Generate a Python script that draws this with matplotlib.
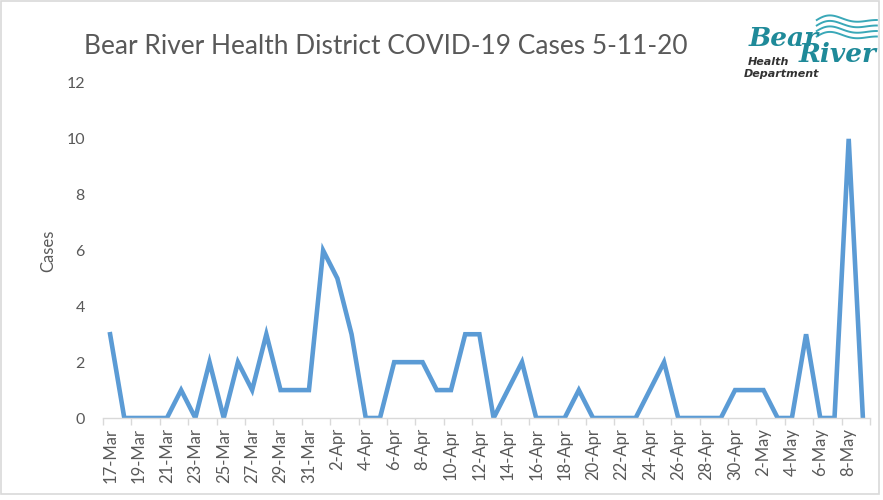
import matplotlib
matplotlib.use("Agg")
import matplotlib.pyplot as plt
from matplotlib.patches import Rectangle
import numpy as np
import datetime as dt

start = dt.date(2020, 3, 17)
cases = [3, 0, 0, 0, 0, 1, 0, 2, 0, 2, 1, 3, 1, 1, 1, 6, 5, 3, 0, 0,
         2, 2, 2, 1, 1, 3, 3, 0, 1, 2, 0, 0, 0, 1, 0, 0, 0, 0, 1, 2,
         0, 0, 0, 0, 1, 1, 1, 0, 0, 3, 0, 0, 10, 0]
dates = [start + dt.timedelta(days=i) for i in range(len(cases))]
labels = [f"{d.day}-{d.strftime('%b')}" for d in dates]
yticks = [0, 2, 4, 6, 8, 10, 12]
title = "Bear River Health District COVID-19 Cases 5-11-20"

FONT = "Lato"
W, H = 883, 500
fig = plt.figure(figsize=(W / 100, H / 100), dpi=100)
fig.patch.set_facecolor("white")
fig.patches.append(Rectangle((0.001, 0.012), 0.995, 0.986, transform=fig.transFigure,
                             fill=False, edgecolor="#d9d9d9", linewidth=1.2))

ax = fig.add_axes([103 / W, 1 - 418 / H, (870 - 103) / W, (418 - 83) / H])
x = np.arange(len(cases))
ax.plot(x, cases, color="#5B9BD5", linewidth=3.3, solid_joinstyle="miter")

ax.set_xlim(-0.5, len(cases) - 0.5)
ax.set_ylim(0, 12)
ax.set_yticks(yticks)
ax.set_yticklabels([str(v) for v in yticks], fontsize=11.5, color="#595959",
                   family=FONT)
ax.tick_params(axis="y", length=0, pad=13)

ax.set_xticks(x[::2])
ax.set_xticklabels(labels[::2], rotation=90, fontsize=12, color="#595959",
                   family=FONT)
ax.set_xticks(np.arange(-0.5, len(cases), 2), minor=True)
ax.tick_params(axis="x", which="major", length=0, pad=7)
ax.tick_params(axis="x", which="minor", length=5, color="#d9d9d9", width=1)

for s in ["top", "right", "left"]:
    ax.spines[s].set_visible(False)
ax.spines["bottom"].set_color("#d9d9d9")
ax.spines["bottom"].set_linewidth(1)

ax.set_ylabel("Cases", fontsize=12, color="#595959", family=FONT, labelpad=7)

fig.text(386 / W, 1 - 47 / H, title, ha="center", va="center", fontsize=18.9,
         color="#595959", family=FONT)

# logo text
fig.text(784 / W, 1 - 38 / H, "Bear", ha="center", va="center", fontsize=19,
         color="#1f8a99", family="DejaVu Serif", style="italic", weight="bold")
fig.text(838 / W, 1 - 55 / H, "River", ha="center", va="center", fontsize=19,
         color="#1f8a99", family="DejaVu Serif", style="italic", weight="bold")
fig.text(768 / W, 1 - 62 / H, "Health", ha="center", va="center", fontsize=8,
         color="#333333", family="DejaVu Sans", style="italic", weight="bold")
fig.text(782 / W, 1 - 74 / H, "Department", ha="center", va="center", fontsize=8,
         color="#333333", family="DejaVu Sans", style="italic", weight="bold")
t = np.linspace(0, 1, 50)
for k in range(4):
    xs = 0.925 + 0.068 * t
    ys = 0.960 - 0.011 * k + 0.012 * np.sin(np.pi * 2 * t) * (1 - t)
    fig.lines.append(plt.Line2D(xs, ys, transform=fig.transFigure, color="#3aa8b8",
                                linewidth=1.4))

fig.savefig("out.png", dpi=100, facecolor="white")
